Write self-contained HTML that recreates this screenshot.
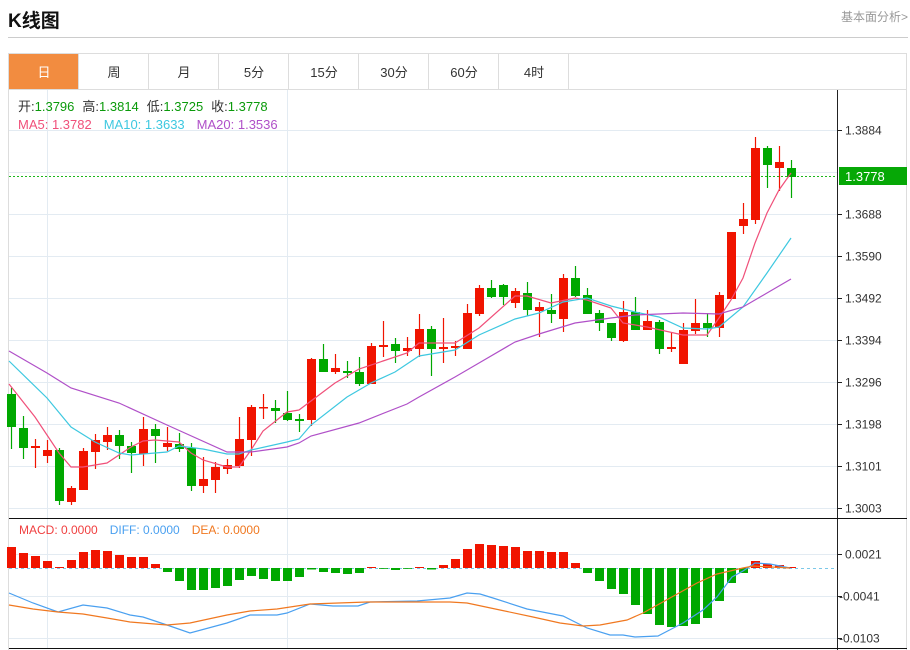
<!DOCTYPE html>
<html><head><meta charset="utf-8">
<style>
html,body{margin:0;padding:0;background:#fff;width:910px;height:650px;overflow:hidden}
body{font-family:"Liberation Sans","Noto Sans CJK SC",sans-serif;position:relative}
.t{position:absolute;white-space:nowrap}
</style></head><body>
<div class="t" style="left:8px;top:6px;font-size:19px;font-weight:bold;color:#111">K线图</div>
<div class="t" style="left:841px;top:8px;font-size:12px;color:#999">基本面分析&gt;</div>
<div style="position:absolute;left:8px;top:37px;width:900px;height:1px;background:#ccc"></div>
<svg id="s" width="910" height="650" style="position:absolute;left:0;top:0" font-family="Liberation Sans, Noto Sans CJK SC, sans-serif"></svg>
<script>
var S='';
function R(x,y,w,h,c){S+='<rect x="'+x+'" y="'+y+'" width="'+w+'" height="'+h+'" fill="'+c+'"/>';}
function L(x1,y1,x2,y2,c,w,d){S+='<line x1="'+x1+'" y1="'+y1+'" x2="'+x2+'" y2="'+y2+'" stroke="'+c+'" stroke-width="'+(w||1)+'"'+(d?' stroke-dasharray="'+d+'"':'')+'/>';}
function T(x,y,t,c,sz,a){S+='<text x="'+x+'" y="'+y+'" fill="'+c+'" font-size="'+(sz||12)+'"'+(a?' text-anchor="'+a+'"':'')+'>'+t+'</text>';}
function P(pts,c){S+='<polyline fill="none" stroke="'+c+'" stroke-width="1.2" points="'+pts+'"/>';}
// frame
S+='<rect x="8.5" y="53.5" width="898" height="600" fill="none" stroke="#ddd"/>';
// tabs
var tabs=['日','周','月','5分','15分','30分','60分','4时'];
for(var i=0;i<8;i++){var x=9+i*70;
 if(i==0)R(x,54,69,35,'#f28c40');
 L(x+69.5,54,x+69.5,89,'#ddd');
 T(x+35,77,tabs[i],i==0?'#fff':'#333',13,'middle');}
L(8,89.5,907,89.5,'#ddd');
// grids
for(var y=130;y<=508;y+=42)L(9,y+.5,837,y+.5,'#e3ebf2');
[554,596,638].forEach(function(y){L(9,y+.5,837,y+.5,'#e3ebf2');});
[47.5,287.5].forEach(function(x){L(x,90,x,648,'#e3ebf2');});
// axis
L(837.5,90,837.5,650,'#222');
L(9,518.5,907,518.5,'#111');L(9,648.5,907,648.5,'#111');
var labs=[[130,'1.3884'],[214,'1.3688'],[256,'1.3590'],[298,'1.3492'],[340,'1.3394'],[382,'1.3296'],[424,'1.3198'],[466,'1.3101'],[508,'1.3003'],[554,'0.0021'],[596,'-0.0041'],[638,'-0.0103']];
labs.forEach(function(l){L(837,l[0]+.5,842,l[0]+.5,'#222');T(l[1][0]=='-'?839:845,l[0]+4.5,l[1],'#333',12);});
// current price
L(9,176.5,837,176.5,'#1cb81c',1,'2,2');
R(839,167,68,18,'#06a806');T(845,181,'1.3778','#fff',13);
// candles [color, bodyTop, bodyBot, wickTop, wickBot]
var C=[['g',394,427,388,449],['g',428,448,416,459],['r',446,448,439,468],['r',450,456,440,463],['g',450,501,448,505],['r',488,502,486,505],['r',451,490,448,490],['r',440,452,434,469],['r',435,442,427,450],['g',435,446,430,459],['g',446,453,442,473],['r',429,454,417,466],['g',429,436,424,463],['r',443,447,427,451],['g',444,449,433,452],['g',448,486,443,491],['r',479,486,457,493],['r',467,480,462,493],['r',465,469,459,474],['r',439,466,417,468],['r',407,440,405,456],['r',407,408.5,394,419],['g',408,411,400,423],['g',413,420,391,421],['g',419,421,414,432],['r',359,420,358,426],['g',359,372,344,372],['r',368,372,354,374],['g',371,373,361,378],['g',372,384,357,386],['r',346,384,343,384],['r',345,347,321,357],['g',344,351,338,363],['r',348,351,337,356],['r',329,349,314,357],['g',329,349,326,376],['r',347,349,318,363],['r',346,348,341,356],['r',313,349,304,349],['r',288,314,285,316],['g',288,297,280,298],['g',285,297,284,305],['r',291,303,288,308],['g',293,310,282,316],['r',307,311,302,337],['g',310,314,294,323],['r',278,319,274,332],['g',278,296,266,297],['g',295,314,288,314],['g',313,323,310,331],['g',323,338,323,341],['r',312,341,301,342],['g',312,330,297,330],['r',321,330,310,330],['g',322,349,320,354],['r',347,349,332,352],['r',330,364,323,364],['r',323,331,299,334],['g',323,328,313,337],['r',295,328,292,337],['r',232,299,232,299],['r',219,226,203,234],['r',148,220,137,224],['g',148,165,146,188],['r',162,168,146,191],['g',168,177,160,198]];
var col={r:'#f01400',g:'#00a800'};
C.forEach(function(c,i){var x=11.5+12*i;L(x,c[3],x,c[4],col[c[0]],1.2);R(x-4.5,c[1],9,Math.max(1.5,c[2]-c[1]),col[c[0]]);});
// MAs
P('9,384 35,417 59,453 71,467 83,467 107,463 131,447 143,441 155,440 179,442 191,453 203,460 227,467 239,467 251,450 263,431 287,412 299,410 311,401 335,383 359,369 383,361 407,353 419,343 455,343 479,328 515,296 527,296 551,303 575,298 587,300 611,308 623,323 647,327 683,335 707,335 719,318 731,300 743,278 755,243 767,213 779,190 791,173','#f0507a');
P('9,361 47,398 71,427 95,442 119,453 131,455 167,452 179,446 203,449 227,454 239,454 251,450 287,442 299,439 311,425 347,397 371,383 395,372 419,356 455,350 479,335 515,319 539,313 563,302 587,298 611,306 635,312 659,317 683,328 707,329 719,327 743,307 767,273 791,238','#3ec8e0');
P('9,351 47,373 71,388 119,403 167,425 227,452 251,452 287,447 299,443 311,436 359,423 407,404 419,397 455,377 479,363 515,342 539,334 575,323 611,318 635,315 683,313 719,314 743,307 767,293 791,279','#b050c8');
// MACD
var Z=568;L(9,Z+.5,837,Z+.5,'#7cc8e8',1,'3,3');
var M=[547,553,556,561,567,560,552,550,551,555,557,557,564,572,581,590,590,588,586,580,576,579,581,581,577,569.5,572,573,574,573,567,568.5,570,568.5,567,569.5,565,559,549,544,545,546,547,551,551,552,552,563,573,581,589,594,605,614,625,627,626,624,618,601,583,573,561,564,565,567];
M.forEach(function(v,i){var x=11.5+12*i;var top=Math.min(v,Z),h=Math.abs(v-Z);R(x-4.5,top,9,Math.max(h,0.8),v<Z?'#f01400':'#00a800');});
P('9,593 33,603 58,612 83,605 107,608 130,615 143,617 167,625 190,633 227,623 250,615 277,615 287,613 310,604 333,606 358,606 370,602 417,601 450,598 467,593 480,594 493,598 527,609 563,616 587,628 610,635 623,635 635,637 658,636 683,623 703,610 717,597 732,577 743,571 755,563 770,564 790,568','#4aa0f0');
P('9,605 33,609 58,612 83,614 107,618 130,622 167,625 190,623 227,615 250,611 277,609 310,604 367,602 417,602 450,602 467,603 500,610 533,617 560,623 583,626 600,625 627,620 643,613 670,598 697,583 717,574 743,568 753,566 790,568','#f07820');
// legends
S+='<text x="18" y="111" font-size="13"><tspan fill="#333">开:</tspan><tspan fill="#0a9a0a">1.3796</tspan><tspan fill="#333" dx="8">高:</tspan><tspan fill="#0a9a0a">1.3814</tspan><tspan fill="#333" dx="8">低:</tspan><tspan fill="#0a9a0a">1.3725</tspan><tspan fill="#333" dx="8">收:</tspan><tspan fill="#0a9a0a">1.3778</tspan></text>';
S+='<text x="18" y="129" font-size="13"><tspan fill="#f0507a">MA5: 1.3782</tspan><tspan fill="#3ec8e0" dx="12">MA10: 1.3633</tspan><tspan fill="#b050c8" dx="12">MA20: 1.3536</tspan></text>';
S+='<text x="19" y="534" font-size="12"><tspan fill="#f04040">MACD: 0.0000</tspan><tspan fill="#4aa0f0" dx="12">DIFF: 0.0000</tspan><tspan fill="#f07820" dx="12">DEA: 0.0000</tspan></text>';
document.getElementById('s').innerHTML=S;
</script>
</body></html>
